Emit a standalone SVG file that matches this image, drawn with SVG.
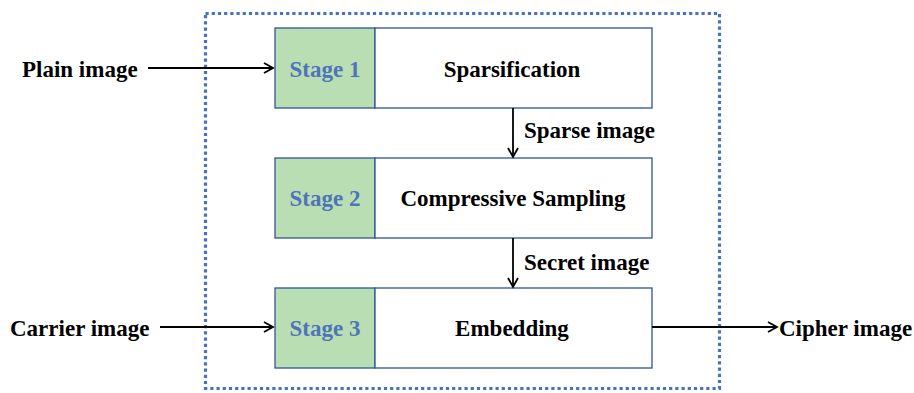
<svg xmlns="http://www.w3.org/2000/svg" width="914" height="393" viewBox="0 0 914 393">
<defs>
<marker id="ah" markerWidth="12" markerHeight="12" refX="10" refY="6" orient="auto" markerUnits="userSpaceOnUse">
<path d="M1,1 L10,6 L1,11" fill="none" stroke="#000" stroke-width="1.8"/>
</marker>
<style>
text{font-family:"Liberation Serif","Times New Roman",serif;font-weight:bold;font-size:23px;fill:#000}
.stage{fill:#4F74BA;text-anchor:middle}
.mid{text-anchor:middle}
.green{fill:#B9DEB3;stroke:#2F5597;stroke-width:1.3}
.white{fill:#fff;stroke:#2F5597;stroke-width:1.3}
.conn{stroke:#000;stroke-width:1.8;fill:none;marker-end:url(#ah)}
</style>
</defs>
<rect width="914" height="393" fill="#fff"/>
<rect id="frame" x="205.5" y="13.5" width="514" height="375" fill="none" stroke="#4472C4" stroke-width="3.2" stroke-dasharray="3.2,3"/>
<g id="stage1">
<rect class="green" x="275" y="28" width="100" height="80"/>
<rect class="white" x="375" y="28" width="277" height="80"/>
<text class="stage" x="325" y="77">Stage 1</text>
<text class="mid" x="512" y="77">Sparsification</text>
</g>
<g id="stage2">
<rect class="green" x="275" y="158" width="100" height="80"/>
<rect class="white" x="375" y="158" width="277" height="80"/>
<text class="stage" x="325" y="206">Stage 2</text>
<text class="mid" x="513" y="206">Compressive Sampling</text>
</g>
<g id="stage3">
<rect class="green" x="275" y="288" width="100" height="80"/>
<rect class="white" x="375" y="288" width="277" height="80"/>
<text class="stage" x="325" y="336">Stage 3</text>
<text class="mid" x="512" y="336">Embedding</text>
</g>
<g id="labels">
<text x="22" y="77">Plain image</text>
<text x="10" y="336">Carrier image</text>
<text x="779" y="336">Cipher image</text>
<text x="524" y="138">Sparse image</text>
<text x="524" y="270">Secret image</text>
</g>
<g id="connectors">
<line class="conn" x1="148" y1="68" x2="273" y2="68"/>
<line class="conn" x1="513" y1="108" x2="513" y2="157"/>
<line class="conn" x1="513" y1="238" x2="513" y2="287"/>
<line class="conn" x1="160" y1="327" x2="273" y2="327"/>
<line class="conn" x1="652" y1="327" x2="777" y2="327"/>
</g>
</svg>
